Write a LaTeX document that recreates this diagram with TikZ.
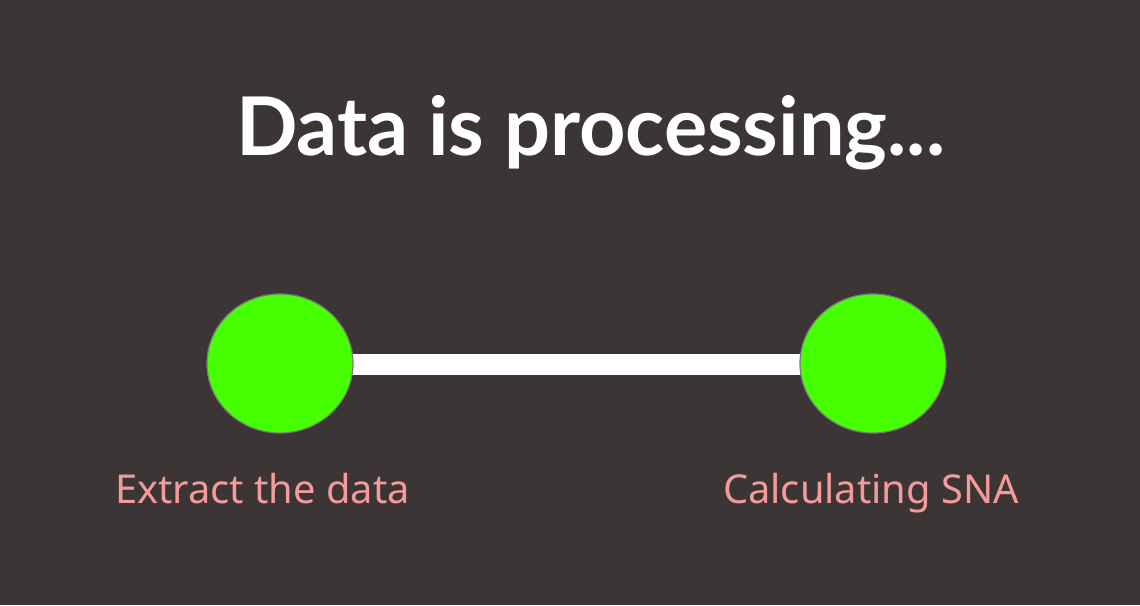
\documentclass[tikz,border=0pt]{standalone}
\usepackage{fontspec}
\newfontfamily\titlefont{Lato}
\newfontfamily\labelfont{Noto Sans}
\usetikzlibrary{shapes.geometric,backgrounds}
\definecolor{bgc}{HTML}{3B3536}
\definecolor{greenc}{HTML}{46FF00}
\definecolor{rimc}{HTML}{7A7A7A}
\definecolor{pinkc}{HTML}{F49A9A}
\tikzset{
  stepdot/.style={ellipse, fill=greenc, draw=rimc, line width=1.2pt, minimum width=146pt, minimum height=139pt, inner sep=0pt},
  steplabel/.style={anchor=base, text=pinkc, font=\labelfont\fontsize{39.8}{44}\selectfont, inner sep=0pt},
  linkbar/.style={draw=white, line width=21pt, line cap=butt}
}
\begin{document}
\begin{tikzpicture}[x=1pt,y=-1pt]
\useasboundingbox (0,0) rectangle (1140,605);
\node[anchor=base, text=white, inner sep=0pt, font=\titlefont\bfseries\fontsize{81}{90}\selectfont] (title) at (590.5,155) {Data is processing...};
\node[stepdot] (c1) at (280,363.5) {};
\node[stepdot] (c2) at (873,363.5) {};
\node[steplabel] (l1) at (262.5,503) {Extract the data};
\node[steplabel] (l2) at (871,503) {Calculating SNA};
\begin{scope}[on background layer]
\fill[bgc] (0,0) rectangle (1140,605);
\draw[linkbar] ([yshift=-1pt]c1.center) -- ([yshift=-1pt]c2.center);
\end{scope}
\end{tikzpicture}
\end{document}
